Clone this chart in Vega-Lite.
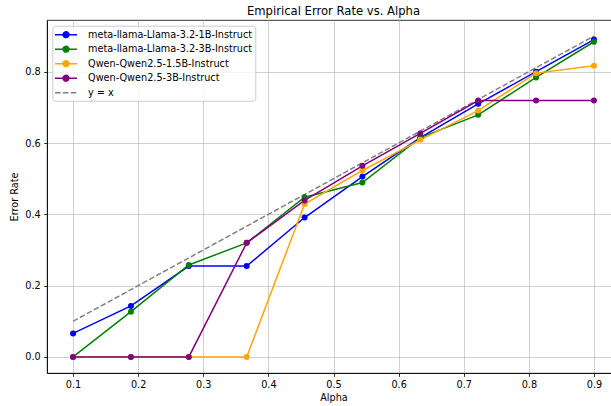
{
  "$schema": "https://vega.github.io/schema/vega-lite/v6.json",
  "width": 573,
  "height": 353,
  "autosize": "none",
  "padding": {"left": 47, "top": 20, "right": 0, "bottom": 33},
  "background": "white",
  "config": {
    "font": "DejaVu Sans",
    "view": {"stroke": "black", "strokeWidth": 0.8},
    "axis": {
      "labelFont": "DejaVu Sans", "titleFont": "DejaVu Sans",
      "labelFontSize": 9.7, "titleFontSize": 9.7, "titleFontWeight": "normal",
      "labelColor": "black", "titleColor": "black",
      "domainColor": "black", "domainWidth": 0.8,
      "tickColor": "black", "tickWidth": 0.8, "tickSize": 3.4,
      "gridColor": "#b0b0b0", "gridWidth": 0.8, "gridOpacity": 0.75,
      "labelPadding": 3.4
    }
  },
  "title": {"text": "Empirical Error Rate vs. Alpha", "fontSize": 11.6, "fontWeight": "normal", "font": "DejaVu Sans", "color": "black", "offset": 2},
  "data": {"values": [
    {"alpha": 0.1, "rate": 0.066, "model": "meta-llama-Llama-3.2-1B-Instruct"},
    {"alpha": 0.1889, "rate": 0.143, "model": "meta-llama-Llama-3.2-1B-Instruct"},
    {"alpha": 0.2778, "rate": 0.255, "model": "meta-llama-Llama-3.2-1B-Instruct"},
    {"alpha": 0.3667, "rate": 0.255, "model": "meta-llama-Llama-3.2-1B-Instruct"},
    {"alpha": 0.4556, "rate": 0.391, "model": "meta-llama-Llama-3.2-1B-Instruct"},
    {"alpha": 0.5444, "rate": 0.506, "model": "meta-llama-Llama-3.2-1B-Instruct"},
    {"alpha": 0.6333, "rate": 0.615, "model": "meta-llama-Llama-3.2-1B-Instruct"},
    {"alpha": 0.7222, "rate": 0.71, "model": "meta-llama-Llama-3.2-1B-Instruct"},
    {"alpha": 0.8111, "rate": 0.80, "model": "meta-llama-Llama-3.2-1B-Instruct"},
    {"alpha": 0.9, "rate": 0.89, "model": "meta-llama-Llama-3.2-1B-Instruct"},
    {"alpha": 0.1, "rate": 0.0, "model": "meta-llama-Llama-3.2-3B-Instruct"},
    {"alpha": 0.1889, "rate": 0.127, "model": "meta-llama-Llama-3.2-3B-Instruct"},
    {"alpha": 0.2778, "rate": 0.258, "model": "meta-llama-Llama-3.2-3B-Instruct"},
    {"alpha": 0.3667, "rate": 0.32, "model": "meta-llama-Llama-3.2-3B-Instruct"},
    {"alpha": 0.4556, "rate": 0.448, "model": "meta-llama-Llama-3.2-3B-Instruct"},
    {"alpha": 0.5444, "rate": 0.489, "model": "meta-llama-Llama-3.2-3B-Instruct"},
    {"alpha": 0.6333, "rate": 0.615, "model": "meta-llama-Llama-3.2-3B-Instruct"},
    {"alpha": 0.7222, "rate": 0.679, "model": "meta-llama-Llama-3.2-3B-Instruct"},
    {"alpha": 0.8111, "rate": 0.784, "model": "meta-llama-Llama-3.2-3B-Instruct"},
    {"alpha": 0.9, "rate": 0.884, "model": "meta-llama-Llama-3.2-3B-Instruct"},
    {"alpha": 0.1, "rate": 0.0, "model": "Qwen-Qwen2.5-1.5B-Instruct"},
    {"alpha": 0.1889, "rate": 0.0, "model": "Qwen-Qwen2.5-1.5B-Instruct"},
    {"alpha": 0.2778, "rate": 0.0, "model": "Qwen-Qwen2.5-1.5B-Instruct"},
    {"alpha": 0.3667, "rate": 0.0, "model": "Qwen-Qwen2.5-1.5B-Instruct"},
    {"alpha": 0.4556, "rate": 0.429, "model": "Qwen-Qwen2.5-1.5B-Instruct"},
    {"alpha": 0.5444, "rate": 0.523, "model": "Qwen-Qwen2.5-1.5B-Instruct"},
    {"alpha": 0.6333, "rate": 0.609, "model": "Qwen-Qwen2.5-1.5B-Instruct"},
    {"alpha": 0.7222, "rate": 0.691, "model": "Qwen-Qwen2.5-1.5B-Instruct"},
    {"alpha": 0.8111, "rate": 0.796, "model": "Qwen-Qwen2.5-1.5B-Instruct"},
    {"alpha": 0.9, "rate": 0.817, "model": "Qwen-Qwen2.5-1.5B-Instruct"},
    {"alpha": 0.1, "rate": 0.0, "model": "Qwen-Qwen2.5-3B-Instruct"},
    {"alpha": 0.1889, "rate": 0.0, "model": "Qwen-Qwen2.5-3B-Instruct"},
    {"alpha": 0.2778, "rate": 0.0, "model": "Qwen-Qwen2.5-3B-Instruct"},
    {"alpha": 0.3667, "rate": 0.32, "model": "Qwen-Qwen2.5-3B-Instruct"},
    {"alpha": 0.4556, "rate": 0.439, "model": "Qwen-Qwen2.5-3B-Instruct"},
    {"alpha": 0.5444, "rate": 0.536, "model": "Qwen-Qwen2.5-3B-Instruct"},
    {"alpha": 0.6333, "rate": 0.627, "model": "Qwen-Qwen2.5-3B-Instruct"},
    {"alpha": 0.7222, "rate": 0.719, "model": "Qwen-Qwen2.5-3B-Instruct"},
    {"alpha": 0.8111, "rate": 0.719, "model": "Qwen-Qwen2.5-3B-Instruct"},
    {"alpha": 0.9, "rate": 0.719, "model": "Qwen-Qwen2.5-3B-Instruct"},
    {"alpha": 0.1, "rate": 0.1, "model": "y = x"},
    {"alpha": 0.9, "rate": 0.9, "model": "y = x"}
  ]},
  "encoding": {
    "x": {"field": "alpha", "type": "quantitative",
      "scale": {"domain": [0.06, 0.94], "nice": false, "zero": false},
      "axis": {"title": "Alpha", "values": [0.1, 0.2, 0.3, 0.4, 0.5, 0.6, 0.7, 0.8, 0.9], "format": ".1f", "titlePadding": 3}},
    "y": {"field": "rate", "type": "quantitative",
      "scale": {"domain": [-0.045, 0.945], "nice": false, "zero": false},
      "axis": {"title": "Error Rate", "values": [0, 0.2, 0.4, 0.6, 0.8], "format": ".1f", "titlePadding": 5}},
    "color": {"field": "model", "type": "nominal",
      "scale": {"domain": ["meta-llama-Llama-3.2-1B-Instruct", "meta-llama-Llama-3.2-3B-Instruct", "Qwen-Qwen2.5-1.5B-Instruct", "Qwen-Qwen2.5-3B-Instruct", "y = x"],
        "range": ["blue", "green", "orange", "purple", "gray"]},
      "sort": null,
      "legend": {
        "title": null, "orient": "none", "legendX": 5.3, "legendY": 5.7,
        "padding": 3, "rowPadding": 2.5, "symbolSize": 100, "symbolOffset": 4.7, "labelOffset": 16,
        "labelFont": "DejaVu Sans", "labelFontSize": 9.7, "labelColor": "black", "labelLimit": 400,
        "fillColor": "rgba(255,255,255,0.8)", "strokeColor": "#cccccc", "cornerRadius": 3,
        "symbolStrokeWidth": 1.5,
        "encode": {"symbols": {"update": {
          "shape": {"signal": "datum.value === 'y = x' ? 'M-2.2,0L2.2,0' : 'M-2.2,0L2.2,0M-0.58,0A0.58,0.58 0 1,0 0.58,0A0.58,0.58 0 1,0 -0.58,0'"},
          "stroke": {"scale": "color", "field": "value"},
          "fill": {"signal": "datum.value === 'y = x' ? 'transparent' : scale('color', datum.value)"},
          "strokeDash": {"signal": "datum.value === 'y = x' ? [5.5, 2.4] : [1, 0]"},
          "strokeWidth": {"value": 1.5},
          "opacity": {"value": 1}
        }}}
      }}
  },
  "layer": [
    {"mark": {"type": "line", "strokeWidth": 1.5},
     "transform": [{"filter": "datum.model === 'y = x'"}],
     "encoding": {"strokeDash": {"value": [5.5, 2.4]}}},
    {"mark": {"type": "line", "strokeWidth": 1.5},
     "transform": [{"filter": "datum.model !== 'y = x'"}]},
    {"mark": {"type": "point", "filled": true, "size": 36, "opacity": 1, "shape": "circle"},
     "transform": [{"filter": "datum.model !== 'y = x'"}]}
  ]
}
